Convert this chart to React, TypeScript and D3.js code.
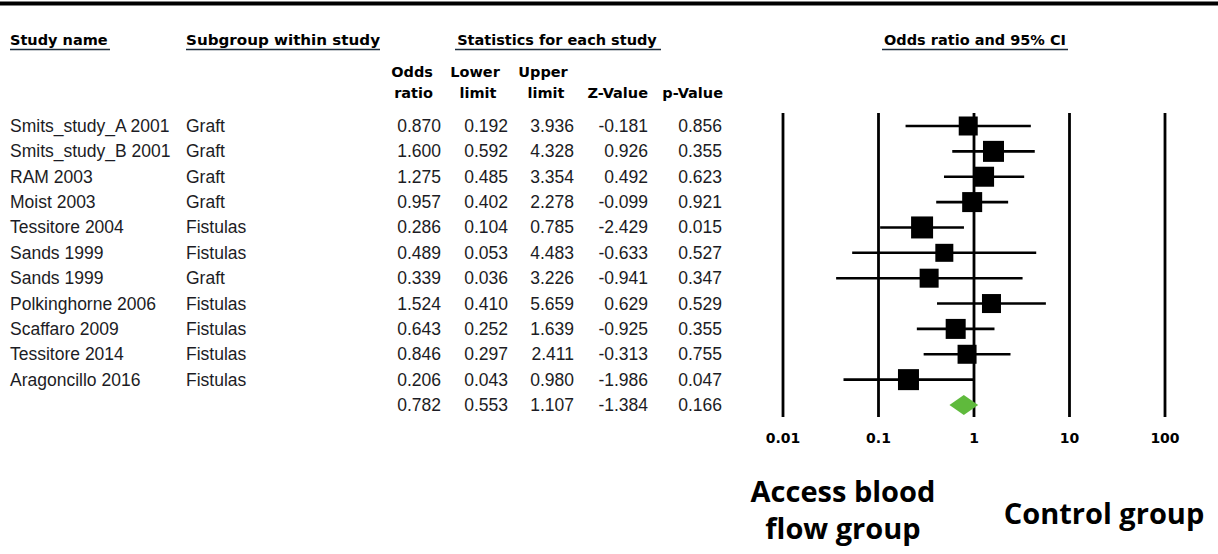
import React from "react";
import * as d3 from "d3";

const studies = ["Smits_study_A 2001", "Smits_study_B 2001", "RAM 2003", "Moist 2003", "Tessitore 2004", "Sands 1999", "Sands 1999", "Polkinghorne 2006", "Scaffaro 2009", "Tessitore 2014", "Aragoncillo 2016"];
const subgroups = ["Graft", "Graft", "Graft", "Graft", "Fistulas", "Fistulas", "Graft", "Fistulas", "Fistulas", "Fistulas", "Fistulas"];
const oddsRatio = [0.870, 1.600, 1.275, 0.957, 0.286, 0.489, 0.339, 1.524, 0.643, 0.846, 0.206];
const lowerLimit = [0.192, 0.592, 0.485, 0.402, 0.104, 0.053, 0.036, 0.410, 0.252, 0.297, 0.043];
const upperLimit = [3.936, 4.328, 3.354, 2.278, 0.785, 4.483, 3.226, 5.659, 1.639, 2.411, 0.980];
const zValue = [-0.181, 0.926, 0.492, -0.099, -2.429, -0.633, -0.941, 0.629, -0.925, -0.313, -1.986];
const pValue = [0.856, 0.355, 0.623, 0.921, 0.015, 0.527, 0.347, 0.529, 0.355, 0.755, 0.047];
const boxSize = [19, 21, 20, 20, 22, 18, 19, 19, 20, 19, 21];
const summary = { or: 0.782, lo: 0.553, hi: 1.107, z: -1.384, p: 0.166 };
const axisTicks = [0.01, 0.1, 1, 10, 100];

const W = 1218, H = 554;

export default function App() {
  const x = d3.scaleLog().domain([0.01, 100]).range([783, 1165]);
  const y = d3.scaleLinear().domain([0, 11]).range([126, 405]);
  const dataFont = "'Liberation Sans', Arial, sans-serif";
  const headFont = "'DejaVu Sans', Verdana, sans-serif";
  const fmt = (v: number) => d3.format(".3f")(v).replace("\u2212", "-");
  const numCols = [
    { vals: oddsRatio, s: summary.or, x: 441 },
    { vals: lowerLimit, s: summary.lo, x: 508 },
    { vals: upperLimit, s: summary.hi, x: 574 },
    { vals: zValue, s: summary.z, x: 648 },
    { vals: pValue, s: summary.p, x: 722 },
  ];
  const underline = (x1: number, x2: number, yy: number) => (
    <line x1={x1} x2={x2} y1={yy} y2={yy} stroke="#1a2a3a" strokeWidth={1.6} />
  );
  const hs = { fontFamily: headFont, fontWeight: 700, fontSize: 14.5 } as const;
  const ds = { fontFamily: dataFont, fontSize: 17.5 } as const;
  return (
    <div style={{ position: "absolute", left: 0, top: 0 }}>
      <svg width={W} height={H} style={{ display: "block", background: "#fff" }}>
        <line x1={0} x2={W} y1={3.5} y2={3.5} stroke="#000" strokeWidth={4} />
        <g style={hs} fill="#000">
          <text x={10} y={45}>Study name</text>
          {underline(10, 110, 49.5)}
          <text x={186} y={45} textLength={194} lengthAdjust="spacingAndGlyphs">Subgroup within study</text>
          {underline(186, 380, 49.5)}
          <text x={557} y={45} textAnchor="middle">Statistics for each study</text>
          {underline(455, 661, 49.5)}
          <text x={975} y={45} textAnchor="middle">Odds ratio and 95% CI</text>
          {underline(882, 1068, 49.5)}
          <text x={433} y={77} textAnchor="end">Odds</text>
          <text x={433} y={98} textAnchor="end">ratio</text>
          <text x={475} y={77} textAnchor="middle">Lower</text>
          <text x={478} y={98} textAnchor="middle">limit</text>
          <text x={543} y={77} textAnchor="middle">Upper</text>
          <text x={546} y={98} textAnchor="middle">limit</text>
          <text x={648} y={98} textAnchor="end">Z-Value</text>
          <text x={723} y={98} textAnchor="end">p-Value</text>
        </g>
        <g style={ds} fill="#1c1c24">
          {studies.map((s, i) => (
            <g key={i}>
              <text x={10} y={y(i) + 6}>{s}</text>
              <text x={186} y={y(i) + 6}>{subgroups[i]}</text>
              {numCols.map((c, j) => (
                <text key={j} x={c.x} y={y(i) + 6} textAnchor="end">{fmt(c.vals[i])}</text>
              ))}
            </g>
          ))}
          {numCols.map((c, j) => (
            <text key={j} x={c.x} y={y(11) + 6} textAnchor="end">{fmt(c.s)}</text>
          ))}
        </g>
        <g stroke="#000" strokeWidth={2.8}>
          {axisTicks.map((t) => (
            <line key={t} x1={x(t)} x2={x(t)} y1={113} y2={417} />
          ))}
        </g>
        <g>
          {studies.map((s, i) => (
            <g key={i}>
              <line x1={x(lowerLimit[i])} x2={x(upperLimit[i])} y1={y(i)} y2={y(i)} stroke="#000" strokeWidth={2.6} />
              <rect x={x(oddsRatio[i]) - boxSize[i] / 2} y={y(i) - boxSize[i] / 2} width={boxSize[i]} height={boxSize[i]} fill="#000" />
            </g>
          ))}
          <path
            d={`M${x(summary.lo)},${y(11)} L${x(summary.or)},${y(11) - 10} L${x(summary.hi)},${y(11)} L${x(summary.or)},${y(11) + 10} Z`}
            fill="#5fba3c"
          />
        </g>
        <g style={{ fontFamily: headFont, fontWeight: 700, fontSize: 14 }} fill="#000">
          {axisTicks.map((t) => (
            <text key={t} x={x(t)} y={443} textAnchor="middle">{String(t)}</text>
          ))}
        </g>
        <g style={{ fontFamily: "'Open Sans', 'Noto Sans', sans-serif", fontWeight: 700, fontSize: 29 }} fill="#000">
          <text x={843} y={502} textAnchor="middle">Access blood</text>
          <text x={843} y={539} textAnchor="middle">flow group</text>
          <text x={1104} y={524} textAnchor="middle">Control group</text>
        </g>
      </svg>
    </div>
  );
}
